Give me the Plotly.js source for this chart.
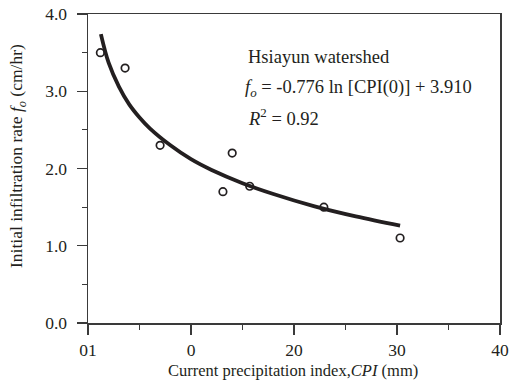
<!DOCTYPE html>
<html>
<head>
<meta charset="utf-8">
<script src="https://cdn.plot.ly/plotly-3.0.1.min.js"></script>
<style>html,body{margin:0;padding:0;background:#fff;}#chart{width:511px;height:390px;}</style>
</head>
<body>
<div id="chart"></div>
<script>
// Observed data
const cpiObs = [1.2, 3.6, 7.0, 14.0, 13.1, 15.7, 22.9, 30.3];
const foObs = [3.50, 3.30, 2.30, 2.20, 1.70, 1.77, 1.50, 1.10];
// Fitted curve
const cpiFit = [1.25, 2, 3, 4, 5, 6, 8, 10, 12, 15, 18, 22, 26, 30.3];
const foFit = [3.74, 3.37, 3.06, 2.83, 2.66, 2.52, 2.30, 2.12, 1.98, 1.81, 1.67, 1.51, 1.38, 1.26];
// Tick labels (as printed)
const xTickVals = [0, 10, 20, 30, 40];
const xTickText = ["01", "0", "20", "30", "40"];
const yTickVals = [0, 1, 2, 3, 4];
const yTickText = ["0.0", "1.0", "2.0", "3.0", "4.0"];

const font = "Liberation Serif, Times New Roman, serif";
const ink = "#231f20";

const traces = [
  {x: cpiFit, y: foFit, mode: "lines", line: {color: ink, width: 3.8, shape: "spline"}, hoverinfo: "skip"},
  {x: cpiObs, y: foObs, mode: "markers", marker: {symbol: "circle-open", size: 7.5, color: ink, line: {width: 1.7, color: ink}}}
];

const layout = {
  width: 511, height: 390,
  margin: {l: 88, r: 11, t: 14, b: 67},
  paper_bgcolor: "#fff", plot_bgcolor: "#fff",
  showlegend: false,
  font: {family: font, size: 17.5, color: ink},
  xaxis: {
    range: [0, 40], tickvals: xTickVals, ticktext: xTickText,
    showline: true, mirror: true, linecolor: "#3a3a3a", linewidth: 1.5,
    ticks: "outside", ticklen: 10, tickwidth: 1.2, tickcolor: "#3a3a3a",
    minor: {dtick: 5, tick0: 0, ticks: "outside", ticklen: 5, tickwidth: 1.2, tickcolor: "#3a3a3a"},
    showgrid: false, zeroline: false, ticklabelstandoff: 0,
    tickfont: {family: font, size: 17.5, color: ink}
  },
  yaxis: {
    range: [0, 4], tickvals: yTickVals, ticktext: yTickText,
    showline: true, mirror: true, linecolor: "#3a3a3a", linewidth: 1.5,
    ticks: "outside", ticklen: 10, tickwidth: 1.2, tickcolor: "#3a3a3a",
    minor: {dtick: 0.5, tick0: 0, ticks: "outside", ticklen: 5, tickwidth: 1.2, tickcolor: "#3a3a3a"},
    showgrid: false, zeroline: false, ticklabelstandoff: 6,
    tickfont: {family: font, size: 17.5, color: ink}
  },
  annotations: [
    {text: "Current precipitation index,<i>CPI</i> (mm)", xref: "paper", yref: "paper",
     x: (293 - 88) / 412, y: (390 - 67 - 370) / 309, xanchor: "center", yanchor: "middle",
     showarrow: false, font: {family: font, size: 16.5, color: ink}},
    {text: "Initial infiltration rate <i>f<sub>o</sub></i> (cm/hr)", xref: "paper", yref: "paper",
     x: (17 - 88) / 412, y: (323 - 156) / 309, xanchor: "center", yanchor: "middle", textangle: -90,
     showarrow: false, font: {family: font, size: 17.5, color: ink}},
    {text: "Hsiayun watershed", xref: "paper", yref: "paper",
     x: (246 - 88) / 412, y: (323 - 57) / 309, xanchor: "left", yanchor: "middle",
     showarrow: false, font: {family: font, size: 18.5, color: ink}},
    {text: "<i>f<sub>o</sub></i> = -0.776 ln [CPI(0)] + 3.910", xref: "paper", yref: "paper",
     x: (243 - 88) / 412, y: (323 - 88) / 309, xanchor: "left", yanchor: "middle",
     showarrow: false, font: {family: font, size: 18.5, color: ink}},
    {text: "<i>R</i><sup>2</sup> = 0.92", xref: "paper", yref: "paper",
     x: (246 - 88) / 412, y: (323 - 117) / 309, xanchor: "left", yanchor: "middle",
     showarrow: false, font: {family: font, size: 18.5, color: ink}}
  ]
};

Plotly.newPlot("chart", traces, layout, {displayModeBar: false, staticPlot: true});
</script>
</body>
</html>
